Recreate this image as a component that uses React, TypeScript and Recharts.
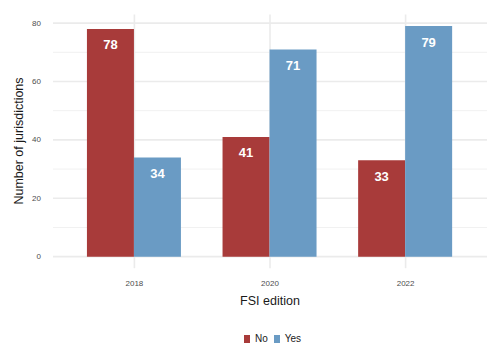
import { Bar, BarChart, CartesianGrid, LabelList, XAxis, YAxis } from 'recharts';

const editions = ['2018', '2020', '2022'];
const noValues = [78, 41, 33];
const yesValues = [34, 71, 79];
const yTicks = [0, 20, 40, 60, 80];
const minorTicks = [10, 30, 50, 70];

const series = [
  { key: 'no', name: 'No', color: '#a83b3a' },
  { key: 'yes', name: 'Yes', color: '#6a9bc4' },
];

const data = editions.map((edition, i) => ({ edition, no: noValues[i], yes: yesValues[i] }));

const FONT = '"Liberation Sans", Arial, Helvetica, sans-serif';

function XTick(props: any) {
  const { x, y, payload } = props;
  return (
    <text x={x} y={y + 7} textAnchor="middle" dominantBaseline="central" fontSize={8} fill="#4d4d4d" fontFamily={FONT}>
      {payload.value}
    </text>
  );
}

function YTick(props: any) {
  const { y, payload } = props;
  return (
    <text x={41} y={y} textAnchor="end" dominantBaseline="central" fontSize={8} fill="#4d4d4d" fontFamily={FONT}>
      {payload.value}
    </text>
  );
}

function BarValue(props: any) {
  const { x, y, width, value } = props;
  return (
    <text
      x={x + width / 2}
      y={y + 16}
      textAnchor="middle"
      dominantBaseline="central"
      fontSize={13}
      fontWeight="bold"
      fill="#ffffff"
      fontFamily={FONT}
    >
      {value}
    </text>
  );
}

export default function App() {
  return (
    <div style={{ position: 'absolute', left: 0, top: 0, width: 500, height: 357, background: '#fff', fontFamily: FONT }}>
      <BarChart
        width={500}
        height={357}
        data={data}
        margin={{ top: 14.5, right: 13, left: 0, bottom: 0 }}
        barCategoryGap="15%"
        barGap={0}
      >
        <CartesianGrid stroke="#f1f1f1" strokeWidth={1} vertical={false} horizontalValues={minorTicks} syncWithTicks />
        <CartesianGrid stroke="#ebebeb" strokeWidth={1.6} horizontalValues={yTicks} syncWithTicks />
        <XAxis
          dataKey="edition"
          axisLine={false}
          tickLine={false}
          height={88.8}
          padding={{ left: 13.6, right: 13.6 }}
          tick={<XTick />}
          interval={0}
        />
        <YAxis
          type="number"
          domain={[-3.95, 82.95]}
          ticks={yTicks}
          allowDataOverflow
          axisLine={false}
          tickLine={false}
          width={53}
          tick={<YTick />}
        />
        {series.map((s) => (
          <Bar key={s.key} dataKey={s.key} name={s.name} fill={s.color} isAnimationActive={false}>
            <LabelList dataKey={s.key} content={<BarValue />} />
          </Bar>
        ))}
        <text x={270} y={301} textAnchor="middle" dominantBaseline="central" fontSize={12.5} fill="#1a1a1a" fontFamily={FONT}>
          FSI edition
        </text>
        <text
          x={19}
          y={141}
          textAnchor="middle"
          dominantBaseline="central"
          fontSize={12.5}
          fill="#1a1a1a"
          fontFamily={FONT}
          transform="rotate(-90 19 141)"
        >
          Number of jurisdictions
        </text>
      </BarChart>
      <div
        style={{
          position: 'absolute',
          top: 333,
          left: 0,
          width: 545,
          display: 'flex',
          justifyContent: 'center',
          alignItems: 'center',
          gap: 6,
          fontSize: 10,
          color: '#1a1a1a',
        }}
      >
        {series.map((s) => (
          <div key={s.key} style={{ display: 'flex', alignItems: 'center', gap: 5 }}>
            <div style={{ width: 6, height: 8, background: s.color }} />
            <span>{s.name}</span>
          </div>
        ))}
      </div>
    </div>
  );
}
